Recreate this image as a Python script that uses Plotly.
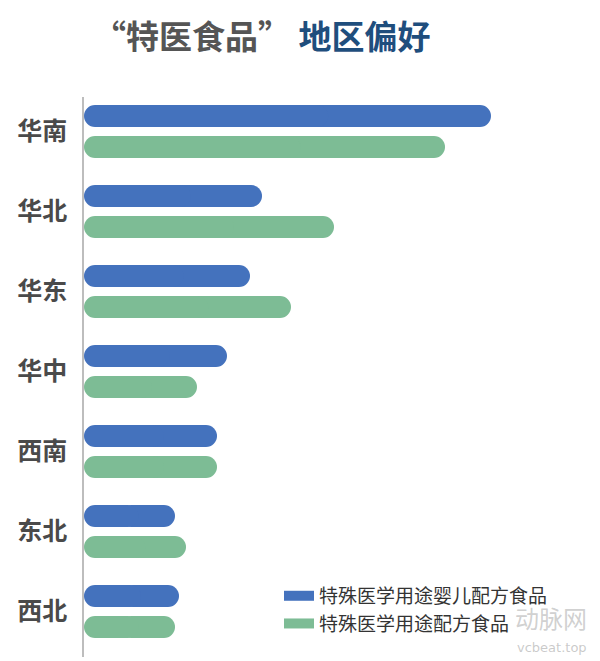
import plotly.graph_objects as go

regions = ["华南", "华北", "华东", "华中", "西南", "东北", "西北"]
infant_formula = [40.7, 17.8, 16.6, 14.3, 13.3, 9.1, 9.5]
medical_formula = [36.1, 25.0, 20.7, 11.3, 13.3, 10.2, 9.1]
series_names = ["特殊医学用途婴儿配方食品", "特殊医学用途配方食品"]
series_colors = ["#4472bd", "#7dbc95"]

FONT = "Noto Sans CJK SC"
fig = go.Figure()

offsets = [-0.33, 0.0575]
width = 0.275
for vals, name, color, off in zip([infant_formula, medical_formula], series_names, series_colors, offsets):
    # right part with rounded right end
    fig.add_trace(go.Bar(
        y=regions, x=[v * 0.6 for v in vals], base=[v * 0.4 for v in vals],
        orientation="h", name=name, marker=dict(color=color, cornerradius=11, line=dict(width=0)),
        offset=off, width=width, showlegend=False, hoverinfo="skip", legendgroup=name,
    ))
    # left part with rounded left end
    fig.add_trace(go.Bar(
        y=regions, x=[-v * 0.6 for v in vals], base=[v * 0.6 for v in vals],
        orientation="h", name=name, marker=dict(color=color, cornerradius=11, line=dict(width=0)),
        offset=off, width=width, showlegend=False, hoverinfo="skip", legendgroup=name,
    ))
    # legend swatch
    fig.add_trace(go.Scatter(
        x=[None], y=[None], mode="lines", name=name,
        line=dict(color=color, width=14), legendgroup=name, showlegend=True,
    ))

fig.update_layout(
    width=600, height=661,
    paper_bgcolor="white", plot_bgcolor="white",
    barmode="overlay",
    margin=dict(l=84, r=16, t=97, b=4),
    font=dict(family=FONT, color="#444"),
    xaxis=dict(range=[0, 50], showgrid=False, zeroline=False, showticklabels=False, showline=False),
    yaxis=dict(categoryorder="array", categoryarray=regions, range=[6.57, -0.43],
               showgrid=False, zeroline=False, showline=True, linecolor="#bdbdbd", linewidth=1.5,
               ticks="", ticklabelstandoff=10,
               tickfont=dict(family=FONT, size=25, color="#4a4a4a", weight="bold")),
    legend=dict(x=0.39, y=0.143, xanchor="left", yanchor="top", bgcolor="rgba(0,0,0,0)",
                font=dict(family=FONT, size=19, color="#333"), tracegroupgap=0, itemwidth=30),
    annotations=[
        dict(text="<span style='color:#555555'>“特医食品”</span> <span style='color:#1f4e7d'>地区偏好</span>",
             x=(262 - 84) / 500, y=1 + (97 - 35) / 560, xref="paper", yref="paper",
             xanchor="center", yanchor="middle", showarrow=False,
             font=dict(family=FONT, size=33, weight="bold")),
        dict(text="动脉网", x=1.01, y=0.035, xref="paper", yref="paper", xanchor="right", yanchor="bottom",
             showarrow=False, font=dict(family=FONT, size=24, color="rgba(150,150,150,0.45)")),
        dict(text="vcbeat.top", x=1.01, y=0.0, xref="paper", yref="paper", xanchor="right", yanchor="bottom",
             showarrow=False, font=dict(family="DejaVu Sans", size=13, color="rgba(150,150,150,0.5)")),
    ],
)

fig.write_html("out.html", config={"displayModeBar": False},
               post_script="document.body.style.margin='0px';")
